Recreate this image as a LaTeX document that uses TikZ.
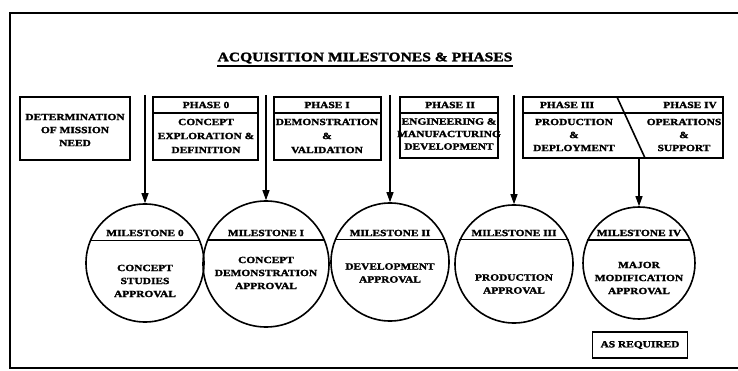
\documentclass[tikz,border=0pt]{standalone}
\usepackage{fontspec}
\setmainfont[FakeStretch=1.2,FakeBold=2]{Liberation Serif}
\usetikzlibrary{arrows.meta}

\tikzset{
  frame/.style={line width=2.8pt},
  phasebox/.style={line width=1.6pt},
  mile/.style={draw, circle, line width=1.6pt, inner sep=0pt},
  chord/.style={line width=1.4pt},
  lbl/.style={font=\bfseries\fontsize{9.5}{13}\selectfont, align=center, inner sep=0pt},
  feed/.style={line width=1.1pt, -{Triangle[length=10pt,width=7pt]}},
}

\begin{document}
\begin{tikzpicture}[x=1pt,y=1pt,yscale=-1,xscale=1]
\useasboundingbox (0,0) rectangle (738,371);

%Frame
\draw [frame] (745,13) -- (10,13) -- (10,368) -- (745,368) ;

% Title
\node [lbl, font=\bfseries\fontsize{13}{15}\selectfont] (title) at (365,58) {ACQUISITION MILESTONES \& PHASES};
\draw [line width=1.5pt] ([yshift=2.5pt]title.south west) -- ([yshift=2.5pt]title.south east) ;

%Boxes
\draw [phasebox] (20,97) rectangle (130,160) ;
\draw [phasebox] (153,97) rectangle (258,160) ;
\draw [phasebox] (153,113) -- (258,113) ;
\draw [phasebox] (274,97) rectangle (381,160) ;
\draw [phasebox] (274,113) -- (381,113) ;
\draw [phasebox] (400,97) rectangle (498,158) ;
\draw [phasebox] (400,113) -- (498,113) ;
\draw [phasebox] (523,97) rectangle (723,158) ;
\draw [phasebox] (523,113) -- (723,113) ;
\draw [phasebox] (617,97) -- (645,158) ;

% Text Node
\node [lbl] (need) at (75,130) {DETERMINATION\\OF MISSION\\NEED};
\node [lbl] (ph0) at (206,105) {PHASE 0};
\node [lbl, font=\bfseries\fontsize{9.5}{14}\selectfont] (ph0t) at (206,136) {CONCEPT\\EXPLORATION \&\\DEFINITION};
\node [lbl] (ph1) at (327,105) {PHASE I};
\node [lbl, font=\bfseries\fontsize{9.5}{14}\selectfont] (ph1t) at (327,136) {DEMONSTRATION\\\&\\VALIDATION};
\node [lbl] (ph2) at (450,105) {PHASE II};
\node [lbl, font=\bfseries\fontsize{9.5}{12.5}\selectfont] (ph2t) at (449,134) {ENGINEERING \&\\MANUFACTURING\\DEVELOPMENT};
\node [lbl] (ph3) at (567,105) {PHASE III};
\node [lbl] (ph3t) at (574,135) {PRODUCTION\\\&\\DEPLOYMENT};
\node [lbl] (ph4) at (690,105) {PHASE IV};
\node [lbl] (ph4t) at (684,135) {OPERATIONS\\\&\\SUPPORT};

%Milestones
\node [mile, minimum size=118pt] (m0) at (145,263) {};
\node [mile, minimum size=126pt] (m1) at (266,264) {};
\node [mile, minimum size=118pt] (m2) at (390,262) {};
\node [mile, minimum size=118pt] (m3) at (514,264) {};
\node [mile, minimum size=112pt] (m4) at (639,263) {};

\foreach \m/\a/\b in {m0/22/158, m1/22/158, m2/22/158, m3/24/156, m4/24/156}
  \draw [chord] (\m.\b) -- (\m.\a) ;

% Text Node
\node [lbl] (l0) at (145,233) {MILESTONE 0};
\node [lbl] (l1) at (266,233) {MILESTONE I};
\node [lbl] (l2) at (390,233) {MILESTONE II};
\node [lbl] (l3) at (514,233) {MILESTONE III};
\node [lbl] (l4) at (639,233) {MILESTONE IV};
\node [lbl] (t0) at (145,281) {CONCEPT\\STUDIES\\APPROVAL};
\node [lbl] (t1) at (266,273) {CONCEPT\\DEMONSTRATION\\APPROVAL};
\node [lbl] (t2) at (390,273) {DEVELOPMENT\\APPROVAL};
\node [lbl] (t3) at (514,284) {PRODUCTION\\APPROVAL};
\node [lbl] (t4) at (639,278) {MAJOR\\MODIFICATION\\APPROVAL};

%Arrows
\coordinate (a0) at (145,95);
\coordinate (a1) at (266,95);
\coordinate (a2) at (390,95);
\coordinate (a3) at (514,95);
\coordinate (a4) at (639,158);
\foreach \i in {0,...,4}
  \draw [feed] (a\i) -- (m\i.north) ;

% As required
\node [draw, phasebox, lbl, minimum width=95pt, minimum height=26pt] (asreq) at (640,345) {AS REQUIRED};

\end{tikzpicture}
\end{document}
